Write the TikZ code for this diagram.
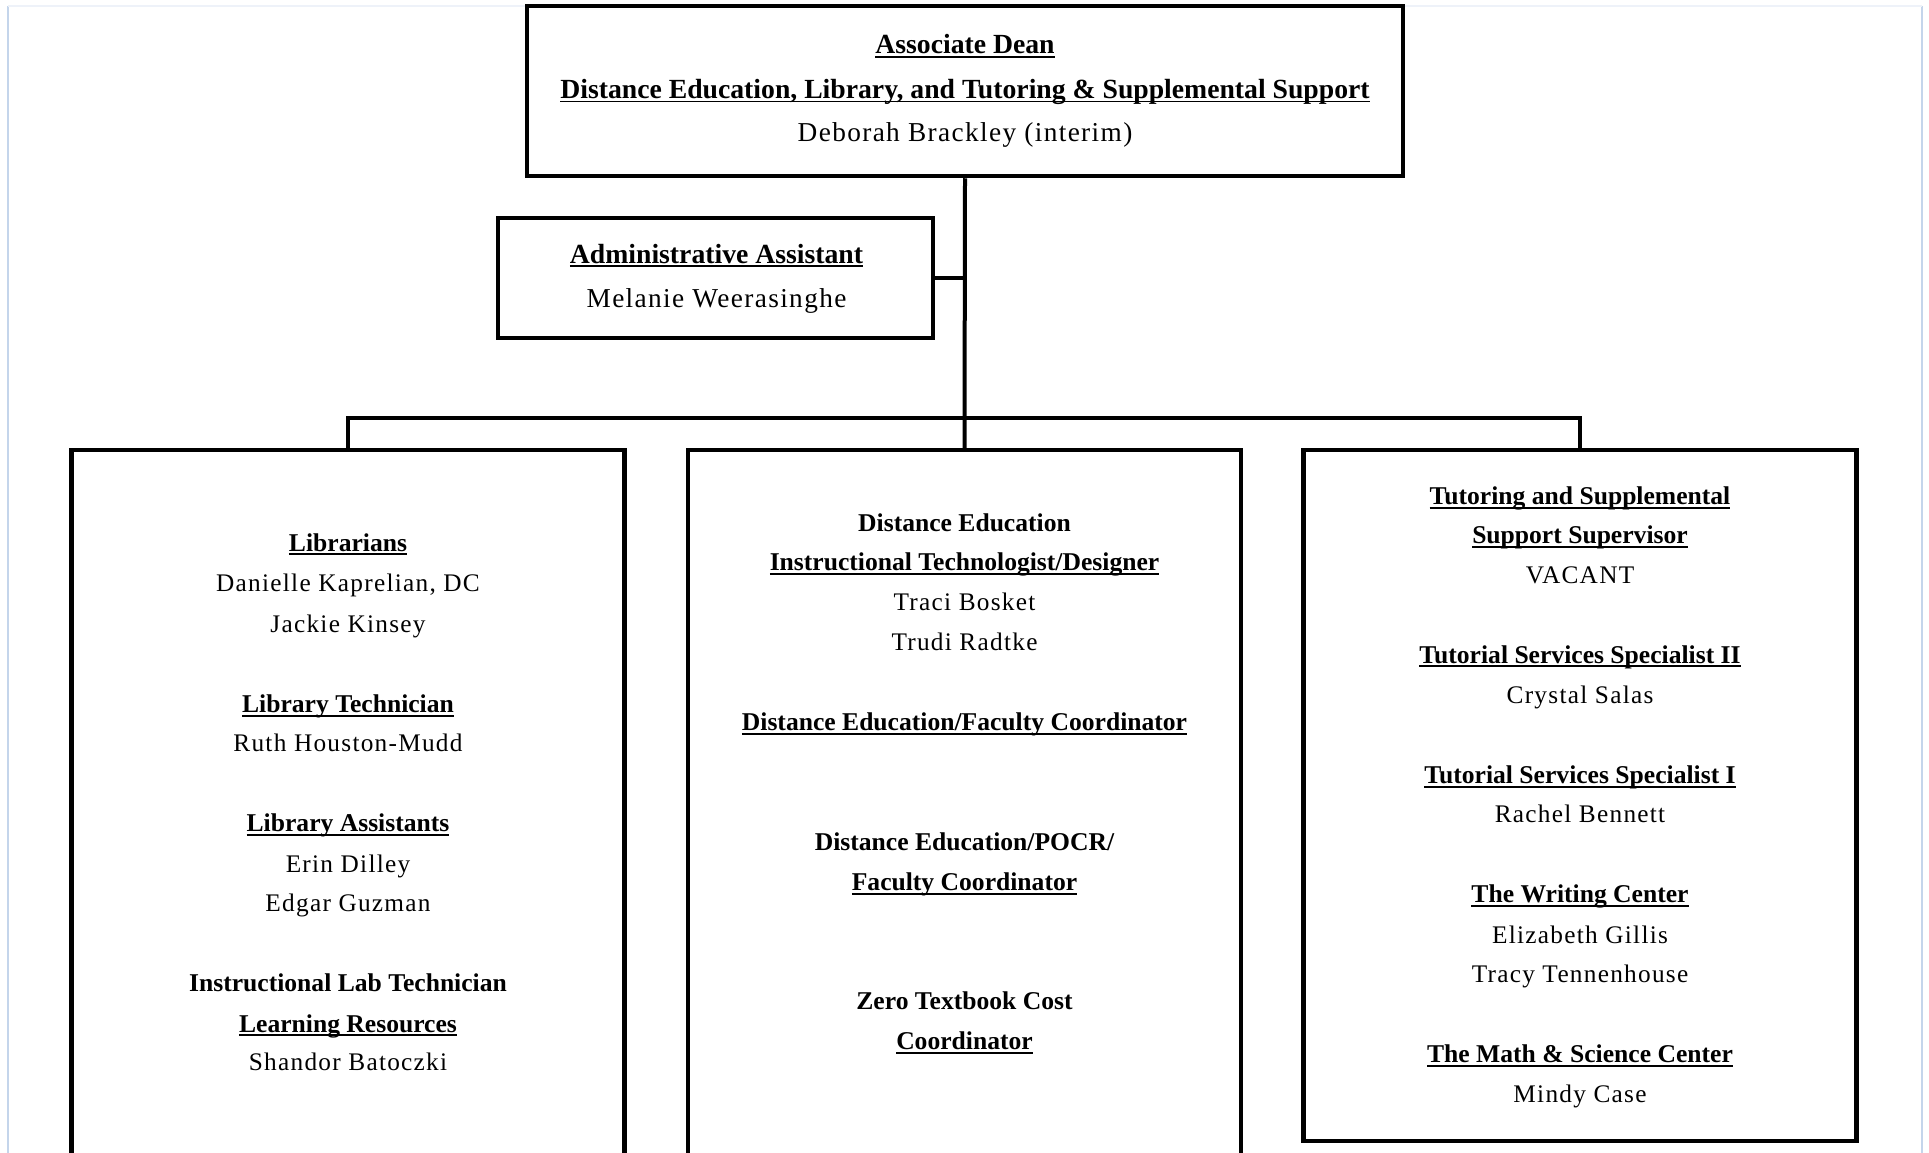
\documentclass[tikz,border=0pt]{standalone}
\usepackage{fontspec}
\usetikzlibrary{positioning}
\newfontfamily\headfont{Liberation Serif}
\newfontfamily\namefont{Liberation Serif}[LetterSpace=5]
\newcommand{\ulhead}[1]{\setbox0=\hbox{#1}\rlap{\rule[-4pt]{\wd0}{1.8pt}}\box0}
\tikzset{box/.append style={draw, rectangle, line width=4.5pt, inner sep=0pt, minimum width=553pt}}
\tikzset{ln/.append style={anchor=base, inner sep=0pt, font=\namefont\fontsize{25.3}{30}\selectfont}}
\tikzset{bf/.append style={anchor=base, inner sep=0pt, font=\headfont\fontsize{25.6}{30}\selectfont\bfseries}}
\tikzset{lnT/.append style={anchor=base, inner sep=0pt, font=\namefont\fontsize{27.3}{32}\selectfont}}
\tikzset{bfT/.append style={anchor=base, inner sep=0pt, font=\headfont\fontsize{27.7}{32}\selectfont\bfseries}}
\tikzset{link/.append style={line width=4pt}}
\tikzset{edge/.append style={line width=2pt, color={rgb,255:red,196;green,213;blue,235}}}

\begin{document}
\begin{tikzpicture}[x=1pt,y=-1pt]
                \useasboundingbox[fill=white] (0,0) rectangle (1929,1153);
                % page edges
                \draw[edge] (8,6) -- (8,1153);
                \draw[edge] (1922,6) -- (1922,1153);
                \draw[edge, color={rgb,255:red,238;green,242;blue,249}] (8,6) -- (1922,6);
                % boxes
                \node[box, minimum width=876pt, minimum height=170pt] (dean) at (965,91) {};
                \node[box, minimum width=435pt, minimum height=120pt] (admin) at (715.5,278) {};
                \node[box, minimum height=760pt] (lib) at (348,830) {};
                \node[box, minimum height=760pt] (de) at (964.5,830) {};
                \node[box, minimum height=691pt] (tut) at (1580,795.5) {};
                % connectors
                \coordinate (bar) at (964.5,418);
                \draw[link] (dean.south) -- (de.north);
                \draw[link] (admin.east) -- (admin.east -| dean.south);
                \draw[link] (lib.north) |- (bar) -| (tut.north);
                % dean
                \node[bfT] (d1) at (965,54) {\ulhead{Associate Dean}};
                \node[bfT] (d2) at (965,98.5) {\ulhead{Distance Education, Library, and Tutoring \& Supplemental Support}};
                \node[lnT] (d3) at (965,141.5) {Deborah Brackley (interim)};
                % assistant
                \node[bfT] (a1) at (716.5,263) {\ulhead{Administrative Assistant}};
                \node[lnT] (a2) at (716.5,307.5) {Melanie Weerasinghe};
                % library
                \node[bf] (l1) at (348,551) {\ulhead{Librarians}};
                \node[ln] (l2) at (348,591.5) {Danielle Kaprelian, DC};
                \node[ln] (l3) at (348,632.5) {Jackie Kinsey};
                \node[bf] (l4) at (348,712.5) {\ulhead{Library Technician}};
                \node[ln] (l5) at (348,751.5) {Ruth Houston-Mudd};
                \node[bf] (l6) at (348,831.5) {\ulhead{Library Assistants}};
                \node[ln] (l7) at (348,872.5) {Erin Dilley};
                \node[ln] (l8) at (348,911.5) {Edgar Guzman};
                \node[bf] (l9) at (348,991.5) {Instructional Lab Technician};
                \node[bf] (l10) at (348,1032) {\ulhead{Learning Resources}};
                \node[ln] (l11) at (348,1070.5) {Shandor Batoczki};
                % distance education
                \node[bf] (m1) at (964.5,531.5) {Distance Education};
                \node[bf] (m2) at (964.5,570.5) {\ulhead{Instructional Technologist/Designer}};
                \node[ln] (m3) at (964.5,610) {Traci Bosket};
                \node[ln] (m4) at (964.5,650.5) {Trudi Radtke};
                \node[bf] (m5) at (964.5,730.5) {\ulhead{Distance Education/Faculty Coordinator}};
                \node[bf] (m6) at (964.5,850) {Distance Education/POCR/};
                \node[bf] (m7) at (964.5,890.5) {\ulhead{Faculty Coordinator}};
                \node[bf] (m8) at (964.5,1009.5) {Zero Textbook Cost};
                \node[bf] (m9) at (964.5,1049.5) {\ulhead{Coordinator}};
                % tutoring
                \node[bf] (r1) at (1580,504.5) {\ulhead{Tutoring and Supplemental}};
                \node[bf] (r2) at (1580,543.5) {\ulhead{Support Supervisor}};
                \node[ln] (r3) at (1580,583) {VACANT};
                \node[bf] (r4) at (1580,663) {\ulhead{Tutorial Services Specialist II}};
                \node[ln] (r5) at (1580,703.5) {Crystal Salas};
                \node[bf] (r6) at (1580,783.5) {\ulhead{Tutorial Services Specialist I}};
                \node[ln] (r7) at (1580,822.5) {Rachel Bennett};
                \node[bf] (r8) at (1580,902.5) {\ulhead{The Writing Center}};
                \node[ln] (r9) at (1580,943.5) {Elizabeth Gillis};
                \node[ln] (r10) at (1580,982.5) {Tracy Tennenhouse};
                \node[bf] (r11) at (1580,1062.5) {\ulhead{The Math \& Science Center}};
                \node[ln] (r12) at (1580,1102.5) {Mindy Case};
            \end{tikzpicture}
\end{document}
